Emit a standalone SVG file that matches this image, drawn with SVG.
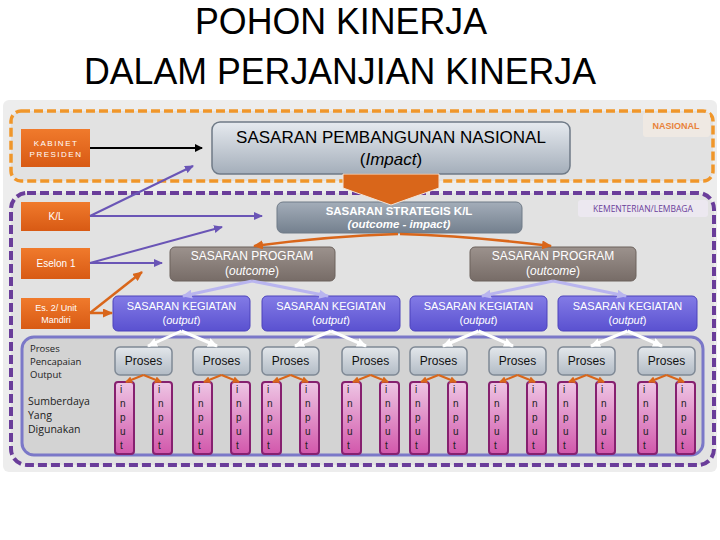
<svg xmlns="http://www.w3.org/2000/svg" width="720" height="540" viewBox="0 0 720 540">
<defs>
<linearGradient id="gOr" x1="0" y1="0" x2="0" y2="1"><stop offset="0" stop-color="#f07a2c"/><stop offset="1" stop-color="#d85a14"/></linearGradient>
<linearGradient id="gPemb" x1="0" y1="0" x2="0" y2="1"><stop offset="0" stop-color="#e6eaef"/><stop offset="1" stop-color="#a4aeba"/></linearGradient>
<linearGradient id="gStrat" x1="0" y1="0" x2="0" y2="1"><stop offset="0" stop-color="#a3adb9"/><stop offset="1" stop-color="#74808e"/></linearGradient>
<linearGradient id="gProg" x1="0" y1="0" x2="0" y2="1"><stop offset="0" stop-color="#9c928d"/><stop offset="1" stop-color="#776c67"/></linearGradient>
<linearGradient id="gKeg" x1="0" y1="0" x2="0" y2="1"><stop offset="0" stop-color="#837be6"/><stop offset="1" stop-color="#5a51d0"/></linearGradient>
<linearGradient id="gPros" x1="0" y1="0" x2="0" y2="1"><stop offset="0" stop-color="#e3e7eb"/><stop offset="1" stop-color="#b2bbc5"/></linearGradient>
<linearGradient id="gIn" x1="0" y1="0" x2="0" y2="1"><stop offset="0" stop-color="#eec6e4"/><stop offset="1" stop-color="#d257ab"/></linearGradient>
<marker id="mBlack" markerUnits="userSpaceOnUse" markerWidth="8" markerHeight="8" refX="7" refY="4" orient="auto"><path d="M0,0 L8,4 L0,8 z" fill="#000"/></marker>
<marker id="mPur" markerUnits="userSpaceOnUse" markerWidth="9" markerHeight="8" refX="8" refY="4" orient="auto"><path d="M0,0 L9,4 L0,8 z" fill="#6a55b6"/></marker>
<marker id="mOr" markerUnits="userSpaceOnUse" markerWidth="10" markerHeight="9" refX="9" refY="4.5" orient="auto"><path d="M0,0 L10,4.5 L0,9 z" fill="#d9661a"/></marker>
<marker id="mOrS" markerUnits="userSpaceOnUse" markerWidth="7" markerHeight="7" refX="6" refY="3.5" orient="auto"><path d="M0,0 L7,3.5 L0,7 z" fill="#d9661a"/></marker>
<marker id="mLav" markerUnits="userSpaceOnUse" markerWidth="10" markerHeight="9" refX="9" refY="4.5" orient="auto"><path d="M0,0 L10,4.5 L0,9 z" fill="#b9b5ef"/></marker>
<marker id="mWh" markerUnits="userSpaceOnUse" markerWidth="10" markerHeight="9" refX="9" refY="4.5" orient="auto"><path d="M0,0 L10,4.5 L0,9 z" fill="#ffffff"/></marker>
</defs>
<style>
.t{font-family:"Liberation Sans",Arial,sans-serif}
.c{font-family:"Open Sans","Liberation Sans",sans-serif}
.or{fill:url(#gOr)}
.wt{fill:#fff;text-anchor:middle}
.pros rect{fill:url(#gPros);stroke:#7f8995;stroke-width:1.5}
.pros text{font-family:"Liberation Sans",Arial,sans-serif;font-size:12px;text-anchor:middle;fill:#111}
.inp rect{fill:url(#gIn);stroke:#86206f;stroke-width:2}
.inp text{font-family:"Liberation Sans",Arial,sans-serif;font-size:10px;fill:#222}
.keg rect{fill:url(#gKeg);stroke:#4c43bb;stroke-width:1}
.keg text{font-family:"Liberation Sans",Arial,sans-serif;font-size:11px;fill:#fff;text-anchor:middle}
.prog rect{fill:url(#gProg);stroke:#6c625d;stroke-width:1}
.prog text{font-family:"Liberation Sans",Arial,sans-serif;font-size:12px;fill:#fff;text-anchor:middle}
.pl{stroke:#6a55b6;stroke-width:2;fill:none;marker-end:url(#mPur)}
.ol{stroke:#d9661a;stroke-width:2.5;fill:none;marker-end:url(#mOr)}
.os{stroke:#d9661a;stroke-width:2;fill:none;marker-end:url(#mOrS)}
.lv{stroke:#b9b5ef;stroke-width:3;fill:none;marker-end:url(#mLav)}
.wl{stroke:#fff;stroke-width:3;fill:none;marker-end:url(#mWh)}
</style>
<rect width="720" height="540" fill="#fff"/>
<g id="title" class="t" font-size="36" text-anchor="middle" fill="#000">
<text x="341" y="34" textLength="292" lengthAdjust="spacingAndGlyphs">POHON KINERJA</text>
<text x="340" y="84" textLength="512" lengthAdjust="spacingAndGlyphs">DALAM PERJANJIAN KINERJA</text>
</g>
<rect x="3" y="100" width="714" height="372" rx="6" fill="#ededed"/>
<g id="zone-nasional">
<rect x="11" y="111" width="702" height="70" rx="10" fill="#e2e2e2" stroke="#f0962a" stroke-width="3.5" stroke-dasharray="9 4"/>
<rect x="643" y="113" width="67" height="24" rx="3" fill="#efe9e3"/>
<text class="t" x="676" y="129" font-size="9" font-weight="bold" fill="#e8823a" text-anchor="middle">NASIONAL</text>
</g>
<g id="zone-kl">
<rect x="11" y="193" width="703" height="272" rx="16" fill="#e2e2e2" stroke="#6a3d9a" stroke-width="4" stroke-dasharray="9 4"/>
<rect x="578" y="200" width="130" height="17" rx="3" fill="#ece8f0"/>
<text class="c" x="643" y="211.5" font-size="8.5" fill="#6a3d9a" text-anchor="middle">KEMENTERIAN/LEMBAGA</text>
</g>
<g id="container">
<rect x="22" y="337" width="681" height="118" rx="12" fill="#d3d3d3" stroke="#7b78c8" stroke-width="3"/>
<text class="c" font-size="9.5" fill="#222"><tspan x="30" y="352">Proses</tspan><tspan x="30" y="365">Pencapaian</tspan><tspan x="30" y="378">Output</tspan></text>
<text class="c" font-size="10.5" fill="#222"><tspan x="28" y="405">Sumberdaya</tspan><tspan x="28" y="419">Yang</tspan><tspan x="28" y="433">Digunakan</tspan></text>
</g>
<g id="kabinet"><rect class="or" x="21" y="129" width="69" height="38"/><text class="t wt" font-size="8" letter-spacing="1.5"><tspan x="56" y="146">KABINET</tspan><tspan x="56" y="157">PRESIDEN</tspan></text></g>
<g id="kl"><rect class="or" x="21" y="202" width="69" height="29"/><text class="t wt" x="56" y="220" font-size="10">K/L</text></g>
<g id="eselon1"><rect class="or" x="21" y="248" width="69" height="31"/><text class="t wt" x="56" y="267" font-size="10">Eselon 1</text></g>
<g id="eselon2"><rect class="or" x="21" y="298" width="69" height="31"/><text class="t wt" font-size="9"><tspan x="56" y="311">Es. 2/ Unit</tspan><tspan x="56" y="323">Mandiri</tspan></text></g>
<g id="sasaran-nasional"><rect x="212" y="122" width="358" height="52" rx="8" fill="url(#gPemb)" stroke="#6f7a87" stroke-width="1.5"/><text class="t" font-size="17" text-anchor="middle" fill="#000"><tspan x="391" y="143">SASARAN PEMBANGUNAN NASIONAL</tspan><tspan x="391" y="165">(<tspan font-style="italic">Impact</tspan>)</tspan></text></g>
<g id="sasaran-strategis"><rect x="277" y="202" width="245" height="31" rx="6" fill="url(#gStrat)" stroke="#6f7a87" stroke-width="1"/><text class="t" font-size="11.5" font-weight="bold" fill="#fff" text-anchor="middle"><tspan x="399" y="215">SASARAN STRATEGIS K/L</tspan><tspan x="399" y="228" font-style="italic">(outcome - impact)</tspan></text></g>
<g id="program-1" class="prog"><rect x="170" y="247" width="165" height="34" rx="5"/><text><tspan x="252" y="260">SASARAN PROGRAM</tspan><tspan x="252" y="275">(<tspan font-style="italic">outcome</tspan>)</tspan></text></g>
<g id="program-2" class="prog"><rect x="470" y="247" width="166" height="34" rx="5"/><text><tspan x="553" y="260">SASARAN PROGRAM</tspan><tspan x="553" y="275">(<tspan font-style="italic">outcome</tspan>)</tspan></text></g>
<g id="kegiatan-1" class="keg"><rect x="113" y="296" width="137" height="35" rx="5"/><text><tspan x="181.5" y="310">SASARAN KEGIATAN</tspan><tspan x="181.5" y="324">(<tspan font-style="italic">output</tspan>)</tspan></text></g>
<g id="kegiatan-2" class="keg"><rect x="262" y="296" width="138" height="35" rx="5"/><text><tspan x="331" y="310">SASARAN KEGIATAN</tspan><tspan x="331" y="324">(<tspan font-style="italic">output</tspan>)</tspan></text></g>
<g id="kegiatan-3" class="keg"><rect x="410" y="296" width="137" height="35" rx="5"/><text><tspan x="478.5" y="310">SASARAN KEGIATAN</tspan><tspan x="478.5" y="324">(<tspan font-style="italic">output</tspan>)</tspan></text></g>
<g id="kegiatan-4" class="keg"><rect x="558" y="296" width="139" height="35" rx="5"/><text><tspan x="627.5" y="310">SASARAN KEGIATAN</tspan><tspan x="627.5" y="324">(<tspan font-style="italic">output</tspan>)</tspan></text></g>
<g id="proses-1" class="pros"><rect x="115" y="347" width="57" height="28" rx="5"/><text x="143.5" y="365">Proses</text></g>
<g id="proses-2" class="pros"><rect x="193" y="347" width="57" height="28" rx="5"/><text x="221.5" y="365">Proses</text></g>
<g id="proses-3" class="pros"><rect x="262" y="347" width="57" height="28" rx="5"/><text x="290.5" y="365">Proses</text></g>
<g id="proses-4" class="pros"><rect x="342" y="347" width="57" height="28" rx="5"/><text x="370.5" y="365">Proses</text></g>
<g id="proses-5" class="pros"><rect x="410" y="347" width="57" height="28" rx="5"/><text x="438.5" y="365">Proses</text></g>
<g id="proses-6" class="pros"><rect x="489" y="347" width="57" height="28" rx="5"/><text x="517.5" y="365">Proses</text></g>
<g id="proses-7" class="pros"><rect x="558" y="347" width="57" height="28" rx="5"/><text x="586.5" y="365">Proses</text></g>
<g id="proses-8" class="pros"><rect x="638" y="347" width="57" height="28" rx="5"/><text x="666.5" y="365">Proses</text></g>
<g id="input-1" class="inp"><rect x="115" y="382" width="19" height="72" rx="3"/><text><tspan x="120" y="393">i</tspan><tspan x="120" y="407">n</tspan><tspan x="120" y="421">p</tspan><tspan x="120" y="435">u</tspan><tspan x="120" y="449">t</tspan></text></g>
<g id="input-2" class="inp"><rect x="153" y="382" width="19" height="72" rx="3"/><text><tspan x="158" y="393">i</tspan><tspan x="158" y="407">n</tspan><tspan x="158" y="421">p</tspan><tspan x="158" y="435">u</tspan><tspan x="158" y="449">t</tspan></text></g>
<g id="input-3" class="inp"><rect x="193" y="382" width="19" height="72" rx="3"/><text><tspan x="198" y="393">i</tspan><tspan x="198" y="407">n</tspan><tspan x="198" y="421">p</tspan><tspan x="198" y="435">u</tspan><tspan x="198" y="449">t</tspan></text></g>
<g id="input-4" class="inp"><rect x="231" y="382" width="19" height="72" rx="3"/><text><tspan x="236" y="393">i</tspan><tspan x="236" y="407">n</tspan><tspan x="236" y="421">p</tspan><tspan x="236" y="435">u</tspan><tspan x="236" y="449">t</tspan></text></g>
<g id="input-5" class="inp"><rect x="262" y="382" width="19" height="72" rx="3"/><text><tspan x="267" y="393">i</tspan><tspan x="267" y="407">n</tspan><tspan x="267" y="421">p</tspan><tspan x="267" y="435">u</tspan><tspan x="267" y="449">t</tspan></text></g>
<g id="input-6" class="inp"><rect x="300" y="382" width="19" height="72" rx="3"/><text><tspan x="305" y="393">i</tspan><tspan x="305" y="407">n</tspan><tspan x="305" y="421">p</tspan><tspan x="305" y="435">u</tspan><tspan x="305" y="449">t</tspan></text></g>
<g id="input-7" class="inp"><rect x="342" y="382" width="19" height="72" rx="3"/><text><tspan x="347" y="393">i</tspan><tspan x="347" y="407">n</tspan><tspan x="347" y="421">p</tspan><tspan x="347" y="435">u</tspan><tspan x="347" y="449">t</tspan></text></g>
<g id="input-8" class="inp"><rect x="380" y="382" width="19" height="72" rx="3"/><text><tspan x="385" y="393">i</tspan><tspan x="385" y="407">n</tspan><tspan x="385" y="421">p</tspan><tspan x="385" y="435">u</tspan><tspan x="385" y="449">t</tspan></text></g>
<g id="input-9" class="inp"><rect x="410" y="382" width="19" height="72" rx="3"/><text><tspan x="415" y="393">i</tspan><tspan x="415" y="407">n</tspan><tspan x="415" y="421">p</tspan><tspan x="415" y="435">u</tspan><tspan x="415" y="449">t</tspan></text></g>
<g id="input-10" class="inp"><rect x="448" y="382" width="19" height="72" rx="3"/><text><tspan x="453" y="393">i</tspan><tspan x="453" y="407">n</tspan><tspan x="453" y="421">p</tspan><tspan x="453" y="435">u</tspan><tspan x="453" y="449">t</tspan></text></g>
<g id="input-11" class="inp"><rect x="489" y="382" width="19" height="72" rx="3"/><text><tspan x="494" y="393">i</tspan><tspan x="494" y="407">n</tspan><tspan x="494" y="421">p</tspan><tspan x="494" y="435">u</tspan><tspan x="494" y="449">t</tspan></text></g>
<g id="input-12" class="inp"><rect x="527" y="382" width="19" height="72" rx="3"/><text><tspan x="532" y="393">i</tspan><tspan x="532" y="407">n</tspan><tspan x="532" y="421">p</tspan><tspan x="532" y="435">u</tspan><tspan x="532" y="449">t</tspan></text></g>
<g id="input-13" class="inp"><rect x="558" y="382" width="19" height="72" rx="3"/><text><tspan x="563" y="393">i</tspan><tspan x="563" y="407">n</tspan><tspan x="563" y="421">p</tspan><tspan x="563" y="435">u</tspan><tspan x="563" y="449">t</tspan></text></g>
<g id="input-14" class="inp"><rect x="596" y="382" width="19" height="72" rx="3"/><text><tspan x="601" y="393">i</tspan><tspan x="601" y="407">n</tspan><tspan x="601" y="421">p</tspan><tspan x="601" y="435">u</tspan><tspan x="601" y="449">t</tspan></text></g>
<g id="input-15" class="inp"><rect x="638" y="382" width="19" height="72" rx="3"/><text><tspan x="643" y="393">i</tspan><tspan x="643" y="407">n</tspan><tspan x="643" y="421">p</tspan><tspan x="643" y="435">u</tspan><tspan x="643" y="449">t</tspan></text></g>
<g id="input-16" class="inp"><rect x="676" y="382" width="19" height="72" rx="3"/><text><tspan x="681" y="393">i</tspan><tspan x="681" y="407">n</tspan><tspan x="681" y="421">p</tspan><tspan x="681" y="435">u</tspan><tspan x="681" y="449">t</tspan></text></g>
<g id="connectors">
<path d="M343,174 L439,174 L439,188 L391,205 L343,188 z" fill="#d9661a" stroke="#f3e3d6" stroke-width="1"/>
<line x1="90" y1="148" x2="202" y2="148" stroke="#000" stroke-width="2" marker-end="url(#mBlack)"/>
<line class="pl" x1="90" y1="216" x2="193" y2="166"/>
<line class="pl" x1="90" y1="216" x2="262" y2="216"/>
<line class="pl" x1="90" y1="263" x2="222" y2="227"/>
<line class="pl" x1="90" y1="263" x2="162" y2="263"/>
<line class="ol" x1="90" y1="313" x2="142" y2="272"/>
<line class="ol" x1="90" y1="313" x2="112" y2="313"/>
<path class="ol" d="M398,234 Q330,236 254,246"/>
<path class="ol" d="M400,234 Q470,236 551,246"/>
<line class="lv" x1="252" y1="281" x2="183" y2="296"/>
<line class="lv" x1="252" y1="281" x2="328" y2="296"/>
<line class="lv" x1="553" y1="281" x2="482" y2="296"/>
<line class="lv" x1="553" y1="281" x2="626" y2="296"/>
<line class="wl" x1="181.5" y1="331" x2="148" y2="346"/>
<line class="wl" x1="181.5" y1="331" x2="217" y2="346"/>
<line class="wl" x1="331" y1="331" x2="295" y2="346"/>
<line class="wl" x1="331" y1="331" x2="366" y2="346"/>
<line class="wl" x1="478.5" y1="331" x2="443" y2="346"/>
<line class="wl" x1="478.5" y1="331" x2="513" y2="346"/>
<line class="wl" x1="627.5" y1="331" x2="591" y2="346"/>
<line class="wl" x1="627.5" y1="331" x2="662" y2="346"/>
<line class="os" x1="143.5" y1="375" x2="126" y2="382"/>
<line class="os" x1="143.5" y1="375" x2="161" y2="382"/>
<line class="os" x1="221.5" y1="375" x2="204" y2="382"/>
<line class="os" x1="221.5" y1="375" x2="239" y2="382"/>
<line class="os" x1="290.5" y1="375" x2="273" y2="382"/>
<line class="os" x1="290.5" y1="375" x2="308" y2="382"/>
<line class="os" x1="370.5" y1="375" x2="353" y2="382"/>
<line class="os" x1="370.5" y1="375" x2="388" y2="382"/>
<line class="os" x1="438.5" y1="375" x2="421" y2="382"/>
<line class="os" x1="438.5" y1="375" x2="456" y2="382"/>
<line class="os" x1="517.5" y1="375" x2="500" y2="382"/>
<line class="os" x1="517.5" y1="375" x2="535" y2="382"/>
<line class="os" x1="586.5" y1="375" x2="569" y2="382"/>
<line class="os" x1="586.5" y1="375" x2="604" y2="382"/>
<line class="os" x1="666.5" y1="375" x2="649" y2="382"/>
<line class="os" x1="666.5" y1="375" x2="684" y2="382"/>
</g>
</svg>
